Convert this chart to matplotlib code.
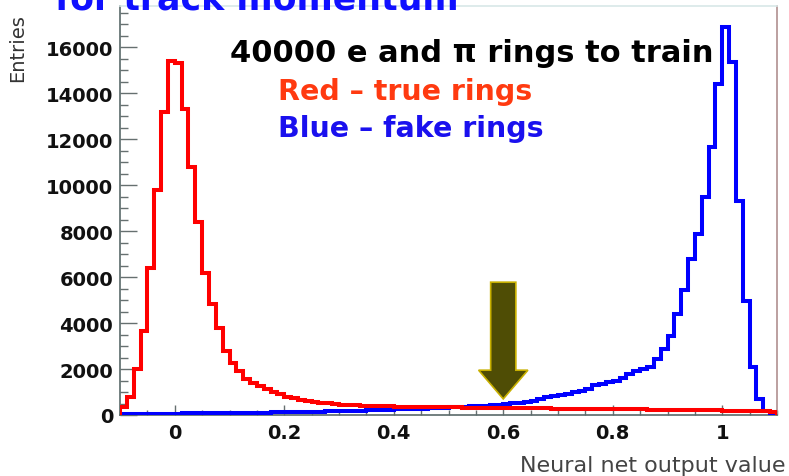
import numpy as np
import matplotlib.pyplot as plt
from matplotlib.ticker import MultipleLocator, FuncFormatter

# histogram binning of the neural net output
bin_lo, bin_hi, n_bins = -0.1, 1.1, 96

# true rings (red), entries per bin
red_counts = [350, 780, 2000, 3650, 6400, 9800, 13200, 15400, 15300, 13300,
              10800, 8400, 6200, 4850, 3800, 2800, 2250, 1900, 1550, 1400,
              1260, 1150, 1000, 930, 800, 750, 650, 610, 570, 530,
              510, 480, 450, 430, 420, 410, 400, 390, 380, 370,
              360, 355, 350, 350, 345, 340, 340, 335, 330, 330,
              325, 320, 320, 315, 310, 310, 305, 300, 300, 295,
              290, 290, 285, 280, 280, 275, 270, 270, 265, 260,
              260, 255, 250, 250, 245, 240, 240, 235, 230, 230,
              225, 220, 220, 215, 210, 205, 200, 200, 195, 190,
              185, 180, 175, 170, 160, 150]

# fake rings (blue), entries per bin
blue_counts = [40, 50, 50, 55, 55, 60, 60, 65, 65, 70,
               70, 75, 75, 80, 80, 85, 90, 90, 95, 100,
               100, 105, 110, 115, 120, 125, 130, 135, 140, 150,
               155, 160, 170, 175, 185, 190, 200, 210, 220, 230,
               240, 250, 260, 270, 280, 290, 300, 315, 330, 345,
               360, 375, 390, 410, 430, 450, 480, 510, 540, 570,
               610, 680, 780, 830, 880, 910, 980, 1040, 1150, 1300,
               1350, 1420, 1480, 1620, 1780, 1900, 2000, 2090, 2430, 2870,
               3430, 4400, 5450, 6780, 7870, 9480, 11650, 14400, 16900, 15350,
               9300, 4960, 2090, 700, 170, 50]

cut_value = 0.6  # where the arrow points

W, H = 789, 477
fig = plt.figure(figsize=(W / 100, H / 100), dpi=100)
ax = fig.add_axes([120 / W, 61 / H, 657 / W, 409 / H])


def px(x, y):
    # figure pixel position -> figure fraction
    return x / W, 1 - y / H


edges = np.linspace(bin_lo, bin_hi, n_bins + 1)
ax.stairs(blue_counts, edges, color='#0000ff', lw=2.9, baseline=0, zorder=3)
ax.stairs(red_counts, edges, color='#ff0000', lw=2.9, baseline=0, zorder=4)

ax.set_xlim(bin_lo, bin_hi)
ax.set_ylim(0, 17800)

# arrow at the cut
ax.arrow(cut_value, 5780, 0, -5080, width=0.046, head_width=0.09,
         head_length=1250, length_includes_head=True,
         fc='#4f4d05', ec='#c8b000', lw=1.2, zorder=6)

# ROOT style ticks
ax.xaxis.set_major_locator(MultipleLocator(0.2))
ax.xaxis.set_minor_locator(MultipleLocator(0.05))
ax.yaxis.set_major_locator(MultipleLocator(2000))
ax.yaxis.set_minor_locator(MultipleLocator(500))
ax.xaxis.set_major_formatter(FuncFormatter(lambda v, p: '%g' % round(v, 2)))
ax.yaxis.set_major_formatter(FuncFormatter(lambda v, p: '%d' % v))
ax.tick_params(axis='y', which='major', direction='in', length=12, width=1,
               color='#667070', pad=5)
ax.tick_params(axis='y', which='minor', direction='in', length=6, width=1,
               color='#667070')
ax.tick_params(axis='x', which='major', direction='in', length=7, width=1,
               color='#667070', pad=6)
ax.tick_params(axis='x', which='minor', direction='in', length=3.5, width=1,
               color='#667070')
for lab in ax.get_xticklabels() + ax.get_yticklabels():
    lab.set_fontfamily('DejaVu Sans')
    lab.set_fontweight('bold')
    lab.set_fontsize(14)
    lab.set_color('#111111')

ax.spines['left'].set_color('#5a6a6a')
ax.spines['bottom'].set_color('#5a6a6a')
ax.spines['top'].set_color('#d8e8e8')
ax.spines['right'].set_color('#b09090')
for s in ax.spines.values():
    s.set_linewidth(1.2)

# axis titles
fig.text(*px(18, 48), 'Entries', rotation=90, ha='center', va='center',
         fontsize=14, color='#333333', family='DejaVu Sans')
fig.text(*px(785, 466), 'Neural net output value', ha='right', va='center',
         fontsize=16, color='#444444', family='DejaVu Sans')

# slide texts
fig.text(*px(55, 10), 'for track momentum', ha='left', va='baseline',
         fontsize=25, fontweight='bold', color='#1010ff', family='DejaVu Sans')
fig.text(*px(230, 62), '40000 e and \u03c0 rings to train', ha='left',
         va='baseline', fontsize=22, fontweight='bold', color='black',
         family='DejaVu Sans')
fig.text(*px(278, 100), 'Red \u2013 true rings', ha='left', va='baseline',
         fontsize=20.5, fontweight='bold', color='#ff3a10', family='DejaVu Sans')
fig.text(*px(278, 137), 'Blue \u2013 fake rings', ha='left', va='baseline',
         fontsize=20.5, fontweight='bold', color='#1a10ee', family='DejaVu Sans')

fig.savefig('out.png', dpi=100)
